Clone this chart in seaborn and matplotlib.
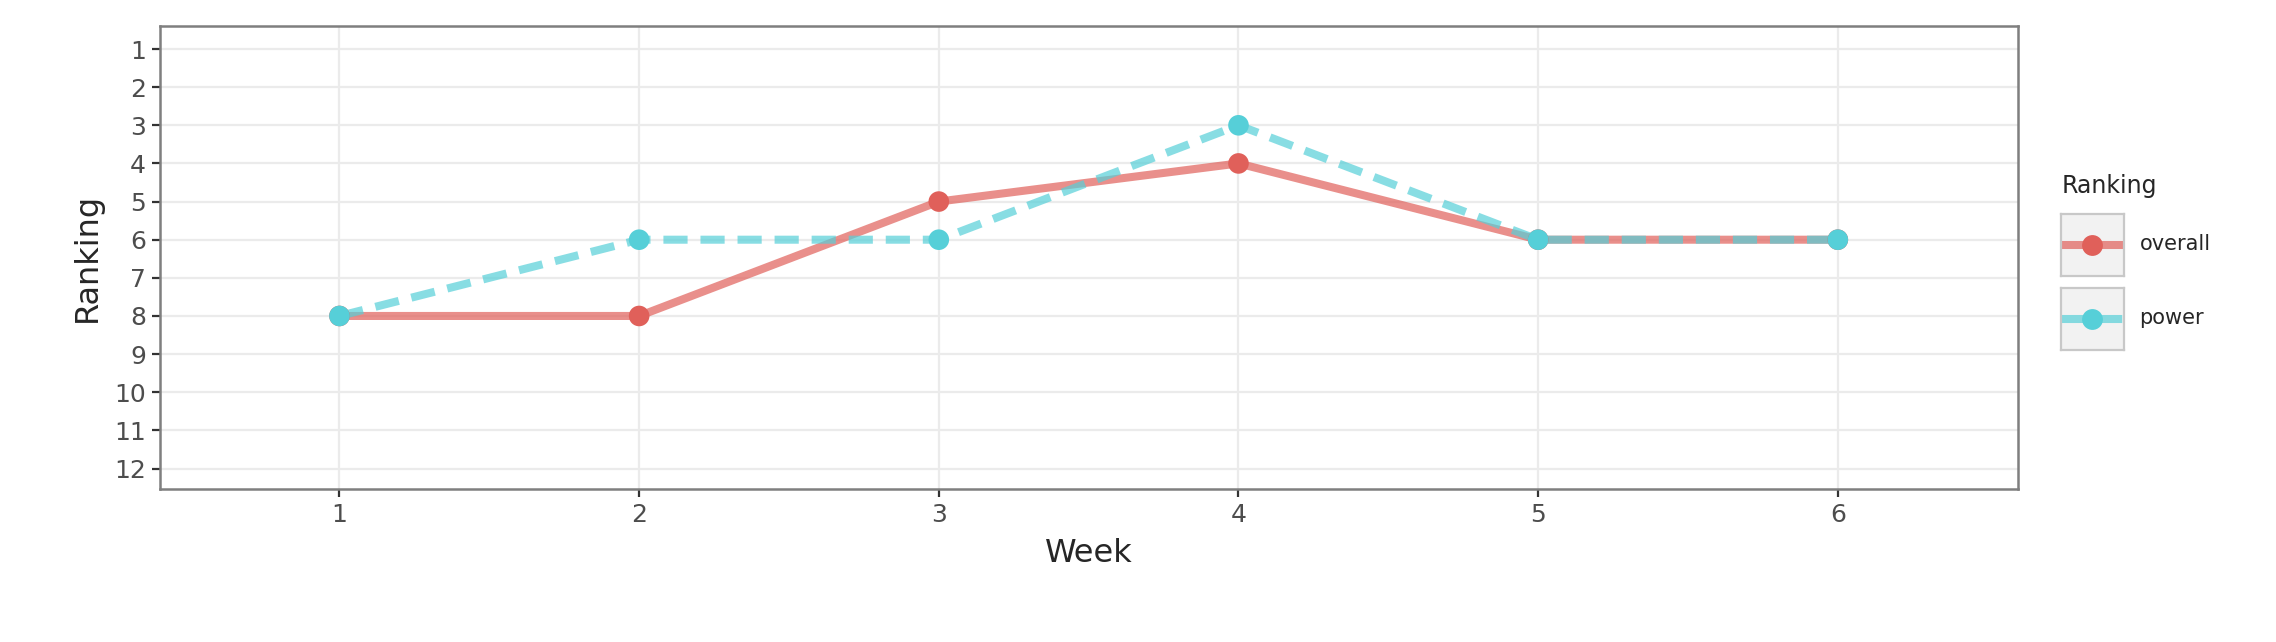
import numpy as np
import pandas as pd
import matplotlib
matplotlib.use("Agg")
import matplotlib.pyplot as plt
import seaborn as sns

weeks = [1, 2, 3, 4, 5, 6]
overall = [8, 8, 5, 4, 6, 6]
power = [8, 6, 6, 3, 6, 6]
series = ["overall", "power"]
colors = {"overall": "#E0605A", "power": "#56CFD8"}

df = pd.DataFrame({
    "Week": weeks * 2,
    "Ranking": overall + power,
    "Type": ["overall"] * 6 + ["power"] * 6,
})

sns.set_style("white")
plt.rcParams["font.family"] = ["DejaVu Sans"]

W, H = 1568, 442  # reference measured in these units
fig = plt.figure(figsize=(11.38, 3.21), dpi=200)
ax = fig.add_axes([110 / W, 1 - 337 / H, 1280 / W, 319 / H])

sns.lineplot(data=df, x="Week", y="Ranking", hue="Type", style="Type",
             palette=colors, dashes={"overall": "", "power": (3, 1.6)},
             linewidth=2.9, alpha=0.7, ax=ax, legend=False)
sns.scatterplot(data=df, x="Week", y="Ranking", hue="Type", palette=colors,
                s=55, linewidth=0, ax=ax, legend=False, zorder=5)

ax.set_xlim(0.4, 6.6)
ax.set_ylim(12.55, 0.4)
ax.set_xticks(weeks)
ax.set_yticks(range(1, 13))
ax.grid(True, color="#EBEBEB", linewidth=0.8)
ax.set_axisbelow(True)
for s in ax.spines.values():
    s.set_color("#7F7F7F")
    s.set_linewidth(0.9)
ax.tick_params(axis="both", colors="#333333", labelcolor="#4D4D4D",
               labelsize=9, length=3, width=0.8, left=True, bottom=True, pad=2)
ax.set_xlabel("Week", fontsize=11.5)
ax.set_ylabel("Ranking", fontsize=11.5)

# legend drawn ggplot-style
fig.text(1420 / W, 1 - 128 / H, "Ranking", fontsize=8.5, va="center")
for i, name in enumerate(series):
    top = 147 + i * 51
    kax = fig.add_axes([1420 / W, 1 - (top + 43) / H, 43 / W, 43 / H])
    kax.set_facecolor("#F2F2F2")
    for s in kax.spines.values():
        s.set_color("#C8C8C8")
    kax.set_xticks([]); kax.set_yticks([])
    kax.set_xlim(0, 1); kax.set_ylim(0, 1)
    ls = "-" if name == "overall" else (0, (3, 1.6))
    kax.plot([0, 1], [0.5, 0.5], color=colors[name], lw=2.9, alpha=0.7, ls=ls)
    kax.plot([0.5], [0.5], "o", color=colors[name], ms=7.5, mew=0)
    fig.text(1474 / W, 1 - (top + 21) / H, name, fontsize=7.5, va="center")

fig.savefig("out.png", dpi=200)
